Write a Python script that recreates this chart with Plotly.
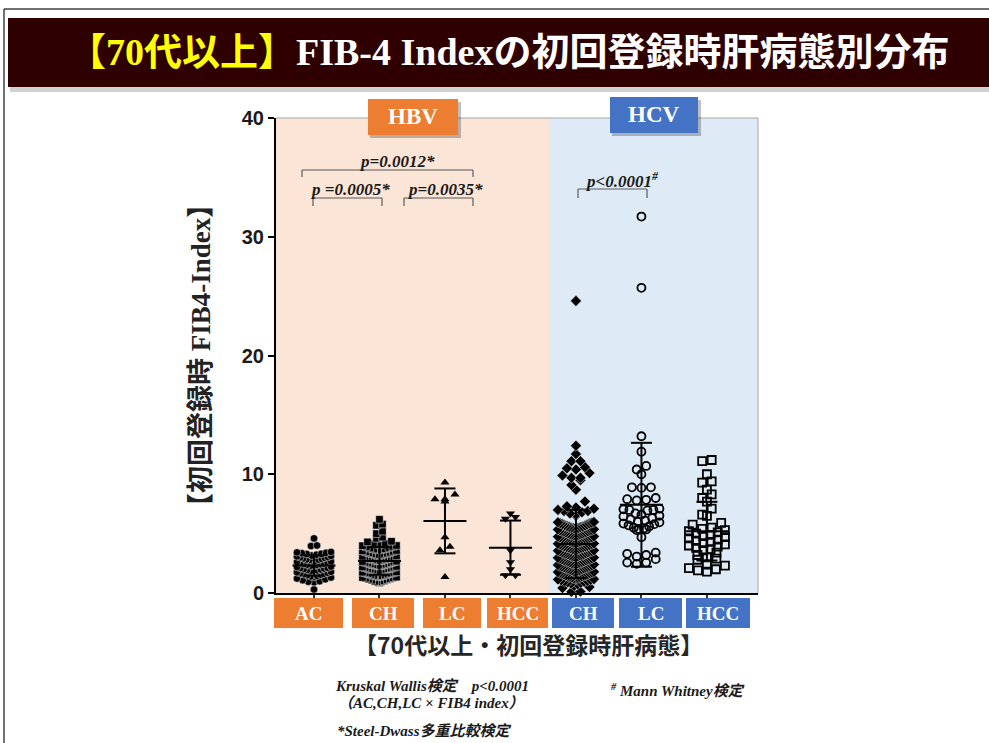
import numpy as np
import plotly.graph_objects as go

# ---------------------------------------------------------------
# FIB-4 index at first registration, age 70+, by liver condition
# ---------------------------------------------------------------
categories = ["AC", "CH", "LC", "HCC", "CH", "LC", "HCC"]
virus = ["HBV", "HBV", "HBV", "HBV", "HCV", "HCV", "HCV"]

hbv_ac = [4.6, 4.0, 3.95,
          3.45, 3.42, 3.38, 3.35, 3.3, 3.28, 3.22,
          3.15, 3.12, 3.08, 3.02, 3.0, 2.96, 2.92, 2.88,
          2.82, 2.8, 2.76, 2.72, 2.7, 2.66, 2.62, 2.57, 2.52,
          2.48, 2.45, 2.42, 2.38, 2.35, 2.3, 2.26, 2.22, 2.18,
          2.12, 2.1, 2.06, 2.02, 1.98, 1.95, 1.9, 1.86, 1.82,
          1.78, 1.74, 1.7, 1.66, 1.62, 1.58, 1.54, 1.5,
          1.44, 1.4, 1.35, 1.3, 1.22, 1.15,
          1.08, 1.0, 0.95, 0.9,
          0.3]

hbv_ch = [6.2, 5.8, 5.7, 5.2, 5.0, 4.7, 4.6,
          4.35, 4.3, 4.2, 4.15,
          4.05, 4.0, 3.98, 3.92, 3.88, 3.83, 3.78,
          3.72, 3.7, 3.66, 3.62, 3.58, 3.55, 3.5, 3.46, 3.42,
          3.38, 3.35, 3.32, 3.28, 3.25, 3.2, 3.16, 3.12, 3.08, 3.05,
          3.02, 3.0, 2.96, 2.92, 2.88, 2.85, 2.82, 2.78, 2.75, 2.72, 2.7,
          2.68, 2.65, 2.62, 2.58, 2.55, 2.52, 2.48, 2.45, 2.42, 2.38, 2.36,
          2.33, 2.3, 2.27, 2.24, 2.2, 2.17, 2.14, 2.1, 2.07, 2.04, 2.01,
          1.98, 1.95, 1.92, 1.88, 1.85, 1.82, 1.78, 1.75, 1.72, 1.69, 1.66,
          1.63, 1.6, 1.56, 1.52, 1.48, 1.45, 1.42, 1.38, 1.34, 1.31,
          1.28, 1.24, 1.2, 1.16, 1.12, 1.08, 1.02, 0.98,
          0.94, 0.9, 0.85]

hbv_lc = [9.3, 8.3, 7.9, 7.7, 7.9, 4.7, 3.9, 3.6, 1.35]

hbv_hcc = [6.7, 6.4, 6.25, 3.6, 2.6, 2.0, 1.5, 1.5]

hcv_ch = [24.6, 12.4, 11.7, 11.1, 11.1, 10.6, 10.5, 10.4, 10.1, 9.9, 9.7, 9.7, 9.5, 9.1, 8.7,
          7.7, 7.3, 7.2, 7.1, 7.0, 6.9, 6.9, 6.8, 6.7, 6.6, 6.5,
          5.98, 5.95, 5.92, 5.88, 5.85, 5.8, 5.76, 5.72, 5.68, 5.64, 5.6,
          5.57, 5.54, 5.5, 5.47, 5.44, 5.4, 5.37, 5.34, 5.3, 5.27, 5.25,
          5.22, 5.19, 5.16, 5.12, 5.09, 5.06, 5.02, 4.99, 4.96, 4.93, 4.9,
          4.87, 4.84, 4.8, 4.77, 4.74, 4.7, 4.67, 4.64, 4.6, 4.57, 4.55,
          4.52, 4.49, 4.46, 4.42, 4.39, 4.36, 4.32, 4.29, 4.26, 4.23, 4.2,
          4.17, 4.14, 4.11, 4.07, 4.04, 4.01, 3.97, 3.94, 3.91, 3.88, 3.86,
          3.82, 3.79, 3.76, 3.72, 3.69, 3.66, 3.62, 3.59, 3.56, 3.53, 3.51,
          3.47, 3.44, 3.41, 3.37, 3.34, 3.31, 3.27, 3.24, 3.21, 3.18, 3.16,
          3.12, 3.09, 3.06, 3.02, 2.99, 2.96, 2.92, 2.89, 2.86, 2.83, 2.81,
          2.77, 2.74, 2.71, 2.67, 2.64, 2.61, 2.57, 2.54, 2.51, 2.48, 2.46,
          2.42, 2.39, 2.36, 2.32, 2.29, 2.26, 2.22, 2.19, 2.16, 2.13, 2.11,
          2.07, 2.04, 2.01, 1.97, 1.94, 1.91, 1.87, 1.84, 1.81, 1.78, 1.76,
          1.72, 1.69, 1.66, 1.62, 1.59, 1.56, 1.52, 1.49, 1.46, 1.43, 1.41,
          1.37, 1.34, 1.31, 1.27, 1.24, 1.21, 1.17, 1.14, 1.11, 1.08,
          1.02, 0.98, 0.94, 0.9, 0.86, 0.8, 0.74,
          0.62, 0.5, 0.42,
          0.12, 0.1]

hcv_lc = [31.7, 25.7, 13.2, 11.9, 10.7, 10.4, 10.0,
          8.9, 8.9, 8.85, 8.0, 7.9, 7.85, 7.8,
          7.1, 7.05, 7.0, 7.0, 6.95,
          6.7, 6.6, 6.5, 6.45, 6.3, 6.2, 6.1, 6.0, 5.95, 5.85, 5.8, 5.7, 5.6, 5.5, 5.45, 5.4, 5.35, 5.3,
          4.7, 3.4, 3.3, 3.2, 3.07, 2.85, 2.56, 2.56, 2.45]

hcv_hcc = [11.2, 11.1, 10.0, 9.4, 9.3, 8.7, 8.3, 8.0, 7.7, 7.1, 6.6, 6.5, 5.9, 5.75,
           5.5, 5.4, 5.3, 5.2, 5.1, 5.0, 4.9, 4.8, 4.7, 4.6, 4.5, 4.4, 4.3, 4.2, 4.1, 4.0,
           3.9, 3.8, 3.7, 3.6,
           3.4, 3.2, 3.0, 2.9, 2.8, 2.4, 2.3, 2.1, 2.0, 1.9, 1.8]

series = [hbv_ac, hbv_ch, hbv_lc, hbv_hcc, hcv_ch, hcv_lc, hcv_hcc]

# marker style and swarm packing per group: symbol, size, bin height (y units),
# horizontal step (px), max half width (px), outline colour, outline width
styles = [
    ("circle", 7.5, 0.45, 6.0, 17, "white", 0.5),
    ("square", 7.5, 0.45, 6.0, 17, "white", 0.5),
    ("triangle-up", 8, 0.60, 10.0, 20, "black", 0),
    ("triangle-down", 8, 0.60, 10.0, 20, "black", 0),
    ("diamond", 8.5, 0.60, 9.0, 18, "white", 0.5),
    ("circle-open", 8, 0.60, 9.5, 18, "black", 1.8),
    ("square-open", 8, 0.60, 9.5, 18, "black", 1.8),
]

# ---------------------------------------------------------------
# geometry
# ---------------------------------------------------------------
W, H = 989, 743
L, R, T, B = 276, 758, 118, 593
X_RANGE = [-0.58, 6.78]
UNIT = (R - L) / (X_RANGE[1] - X_RANGE[0])   # px per x unit


def px(x):
    return (x - L) / (R - L)


def py(y):
    return (B - y) / (B - T)


def swarm(vals, center, bin_h, step_px, half_px):
    """Bin values into rows; spread each row sideways, lowest value in the middle."""
    vals = np.asarray(vals, dtype=float)
    bins = np.floor(vals / bin_h).astype(int)
    xs, ys = [], []
    for b in np.unique(bins):
        row = np.sort(vals[bins == b])
        n = len(row)
        step = step_px
        if n > 1:
            step = min(step_px, 2 * half_px / (n - 1))
        slots = (np.arange(n) - (n - 1) / 2) * step
        order = sorted(range(n), key=lambda i: (round(abs(slots[i]), 6), slots[i]))
        for v, si in zip(row, order):
            xs.append(center + slots[si] / UNIT)
            ys.append(v)
    return xs, ys


fig = go.Figure()

# mean ± SD bars
ex, ey = [], []
MEAN_HALF = 21.5 / UNIT
CAP_HALF = 10.5 / UNIT
for i, vals in enumerate(series):
    m = float(np.mean(vals))
    s = float(np.std(vals, ddof=1))
    ex += [i - MEAN_HALF, i + MEAN_HALF, None,
           i - CAP_HALF, i + CAP_HALF, None,
           i - CAP_HALF, i + CAP_HALF, None,
           i, i, None]
    ey += [m, m, None, m + s, m + s, None, m - s, m - s, None, m - s, m + s, None]

for i, vals in enumerate(series):
    sym, size, bh, stp, hw, lc, lw = styles[i]
    xs, ys = swarm(vals, i, bh, stp, hw)
    fig.add_trace(go.Scatter(
        x=xs, y=ys, mode="markers", cliponaxis=False, showlegend=False,
        hoverinfo="skip",
        marker=dict(symbol=sym, size=size, color="black", line=dict(color=lc, width=lw)),
    ))

fig.add_trace(go.Scatter(x=ex, y=ey, mode="lines", showlegend=False, hoverinfo="skip",
                         cliponaxis=False, line=dict(color="black", width=2)))

shapes = []
ann = []

# panel backgrounds
shapes.append(dict(type="rect", xref="x", yref="y", x0=X_RANGE[0], x1=3.59, y0=0, y1=40,
                   fillcolor="#FBE5D6", line=dict(width=0), layer="below"))
shapes.append(dict(type="rect", xref="x", yref="y", x0=3.59, x1=X_RANGE[1], y0=0, y1=40,
                   fillcolor="#DEEBF7", line=dict(width=0), layer="below"))
# top / right frame
shapes.append(dict(type="line", xref="paper", yref="paper", x0=0, x1=1, y0=1, y1=1,
                   line=dict(color="#A6A6A6", width=1)))
shapes.append(dict(type="line", xref="paper", yref="paper", x0=1, x1=1, y0=0, y1=1,
                   line=dict(color="#A6A6A6", width=1)))

# slide frame
shapes.append(dict(type="line", xref="paper", yref="paper", x0=px(4), x1=px(989), y0=py(9), y1=py(9),
                   line=dict(color="#404040", width=1.5)))
shapes.append(dict(type="line", xref="paper", yref="paper", x0=px(4), x1=px(4), y0=py(9), y1=py(743),
                   line=dict(color="#404040", width=1.5)))

# title bar
shapes.append(dict(type="rect", xref="paper", yref="paper", x0=px(10), x1=px(992), y0=py(87), y1=py(92),
                   fillcolor="rgba(0,0,0,0.18)", line=dict(width=0)))
shapes.append(dict(type="rect", xref="paper", yref="paper", x0=px(8), x1=px(990), y0=py(18), y1=py(87),
                   fillcolor="#2E0000", line=dict(width=0)))
ann.append(dict(xref="paper", yref="paper", x=px(508), y=py(52), showarrow=False,
                text="<span style='color:#FFFF00'>【70代以上】</span>FIB-4 Indexの初回登録時肝病態別分布",
                font=dict(family="Liberation Serif, Noto Sans CJK JP", size=38, color="white", weight="bold"),
                xanchor="center", yanchor="middle"))

# virus header boxes
headers = [("HBV", 368, 458, 99, 135, "#ED7D31"), ("HCV", 610, 698, 97, 133, "#4472C4")]
for label, x0, x1, y0, y1, col in headers:
    shapes.append(dict(type="rect", xref="paper", yref="paper", x0=px(x0 + 2), x1=px(x1 + 3),
                       y0=py(y0 + 3), y1=py(y1 + 3), fillcolor="rgba(0,0,0,0.25)", line=dict(width=0)))
    shapes.append(dict(type="rect", xref="paper", yref="paper", x0=px(x0), x1=px(x1), y0=py(y0), y1=py(y1),
                       fillcolor=col, line=dict(width=0)))
    ann.append(dict(xref="paper", yref="paper", x=px((x0 + x1) / 2), y=py((y0 + y1) / 2), showarrow=False,
                    text=label, font=dict(family="Liberation Serif", size=23, color="white", weight="bold"),
                    xanchor="center", yanchor="middle"))

# category label boxes under the axis
box_edges = [(274, 343), (352, 414), (423, 481), (487, 548), (552, 614), (619, 682), (686, 750)]
for lab, v, (x0, x1) in zip(categories, virus, box_edges):
    col = "#ED7D31" if v == "HBV" else "#4472C4"
    shapes.append(dict(type="rect", xref="paper", yref="paper", x0=px(x0), x1=px(x1), y0=py(598), y1=py(628),
                       fillcolor=col, line=dict(width=0)))
    ann.append(dict(xref="paper", yref="paper", x=px((x0 + x1) / 2), y=py(613), showarrow=False,
                    text=lab, font=dict(family="Liberation Serif", size=19, color="white", weight="bold"),
                    xanchor="center", yanchor="middle"))

# significance brackets
brackets = [
    (302, 473, 170, 177, "p=0.0012*", 397, 161),
    (313, 382, 198, 206, "p =0.0005*", 350, 189),
    (404, 473, 198, 206, "p=0.0035*", 445, 189),
    (578, 647, 189, 198, "p<0.0001<sup>#</sup>", 622, 180),
]
for x0, x1, yt, yb, txt, tx, ty in brackets:
    for (a, b, c, d) in [(x0, x1, yt, yt), (x0, x0, yt, yb), (x1, x1, yt, yb)]:
        shapes.append(dict(type="line", xref="paper", yref="paper", x0=px(a), x1=px(b), y0=py(c), y1=py(d),
                           line=dict(color="#595959", width=1.2)))
    ann.append(dict(xref="paper", yref="paper", x=px(tx), y=py(ty), showarrow=False,
                    text="<i>" + txt + "</i>",
                    font=dict(family="Liberation Serif", size=17, color="#1a1a1a", weight="bold"),
                    xanchor="center", yanchor="middle"))

# axis titles
ann.append(dict(xref="paper", yref="paper", x=px(201), y=py(356), showarrow=False, textangle=-90,
                text="【初回登録時 FIB4-Index】",
                font=dict(family="Liberation Serif, Noto Sans CJK JP", size=27, color="#222222", weight="bold"),
                xanchor="center", yanchor="middle"))
ann.append(dict(xref="paper", yref="paper", x=px(528), y=py(644), showarrow=False,
                text="【70代以上・初回登録時肝病態】",
                font=dict(family="Noto Sans CJK JP", size=23, color="#262626", weight="bold"),
                xanchor="center", yanchor="middle"))

# footnotes
notes = [
    ("<i>Kruskal Wallis検定　p<0.0001</i>", 333, 686),
    ("<i>（AC,CH,LC × FIB4 index）</i>", 336, 703),
    ("<i>*Steel-Dwass多重比較検定</i>", 335, 731),
    ("<i><sup>#</sup> Mann Whitney検定</i>", 608, 690),
]
for txt, x, y in notes:
    ann.append(dict(xref="paper", yref="paper", x=px(x), y=py(y), showarrow=False, text=txt,
                    font=dict(family="Liberation Serif, Noto Sans CJK JP", size=15, color="#1a1a1a", weight="bold"),
                    xanchor="left", yanchor="middle"))

fig.update_layout(
    width=W, height=H,
    margin=dict(l=L, r=W - R, t=T, b=H - B, pad=0),
    paper_bgcolor="white", plot_bgcolor="white",
    shapes=shapes, annotations=ann,
    xaxis=dict(range=X_RANGE, tickvals=list(range(len(categories))), showticklabels=False,
               ticks="outside", ticklen=5, tickwidth=1.5, tickcolor="#333333",
               showline=True, linewidth=2, linecolor="black", showgrid=False, zeroline=False, fixedrange=True),
    yaxis=dict(range=[0, 40], tickvals=[0, 10, 20, 30, 40], ticks="outside", ticklen=6, tickwidth=2,
               tickcolor="black", showline=True, linewidth=2, linecolor="black", showgrid=False,
               zeroline=False, fixedrange=True,
               tickfont=dict(family="Liberation Sans", size=20, color="#1a1a1a", weight="bold")),
)

fig.write_html("out.html")
